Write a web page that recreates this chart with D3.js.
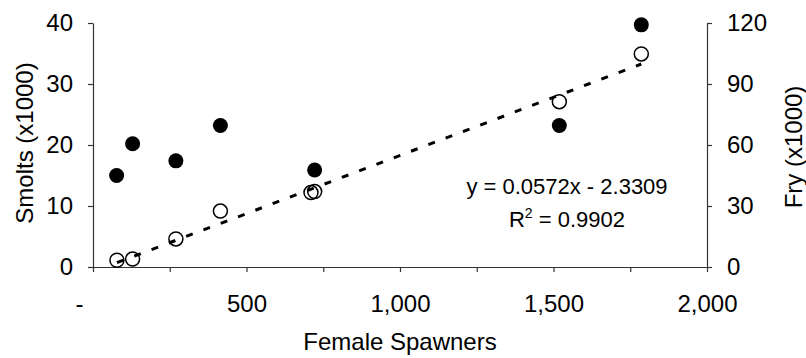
<!DOCTYPE html>
<html>
<head>
<meta charset="utf-8">
<script src="https://cdn.jsdelivr.net/npm/d3@7"></script>
<style>
  html, body { margin: 0; padding: 0; background: #fff; }
  svg { display: block; font-family: "Liberation Sans", Arial, sans-serif; }
</style>
</head>
<body>
<svg id="chart" width="806" height="358"></svg>
<script>
// ---- data ----
const smoltSpawners = [77, 129, 270, 415, 722, 1519, 1786];
const smolts = [15.0, 20.2, 17.4, 23.2, 15.9, 23.2, 39.7];
const frySpawners = [78, 129, 270, 415, 710, 722, 1519, 1786];
const fry = [3.3, 3.9, 13.8, 27.5, 36.6, 37.1, 81.3, 104.8];
const trendSlope = 0.0572;
const trendIntercept = -2.3309;
const xTicks = [0, 250, 500, 750, 1000, 1250, 1500, 1750, 2000];
const leftTicks = [0, 10, 20, 30, 40];
const rightTicks = [0, 30, 60, 90, 120];
const eqText = "y = 0.0572x - 2.3309";
const r2Value = "0.9902";

// ---- layout ----
const svg = d3.select("#chart");
const x = d3.scaleLinear().domain([0, 2000]).range([93, 707]);
const yL = d3.scaleLinear().domain([0, 40]).range([267, 23]);
const yR = d3.scaleLinear().domain([0, 120]).range([267, 23]);
const fs = 24;

function styleAxis(g) {
  g.selectAll("path").attr("stroke", "#333").attr("stroke-width", 1.2);
  g.selectAll("line").attr("stroke", "#333").attr("stroke-width", 1.2);
  g.selectAll("text").attr("font-size", fs).attr("fill", "#000")
    .attr("font-family", '"Liberation Sans", Arial, sans-serif');
}

// x axis
const gx = svg.append("g").attr("transform", "translate(0,267)")
  .call(d3.axisBottom(x).tickValues(xTicks).tickSize(5).tickSizeOuter(0).tickPadding(23)
    .tickFormat(d => d === 0 ? "-" : (d % 500 === 0 ? d3.format(",")(d) : "")));
styleAxis(gx);
gx.selectAll(".tick text").filter(d => d === 0).attr("dx", -14);

// left axis
const gl = svg.append("g").attr("transform", "translate(93,0)")
  .call(d3.axisLeft(yL).tickValues(leftTicks).tickSize(5).tickSizeOuter(0).tickPadding(15));
styleAxis(gl);

// right axis
const gr = svg.append("g").attr("transform", "translate(707,0)")
  .call(d3.axisRight(yR).tickValues(rightTicks).tickSize(5).tickSizeOuter(0).tickPadding(15));
styleAxis(gr);

// smolts (filled, left axis)
svg.append("g").selectAll("circle").data(smolts).join("circle")
  .attr("cx", (d, i) => x(smoltSpawners[i]))
  .attr("cy", d => yL(d))
  .attr("r", 7.5)
  .attr("fill", "#000");

// fry (open, right axis)
svg.append("g").selectAll("circle").data(fry).join("circle")
  .attr("cx", (d, i) => x(frySpawners[i]))
  .attr("cy", d => yR(d))
  .attr("r", 7)
  .attr("fill", "none")
  .attr("stroke", "#000")
  .attr("stroke-width", 1.5);

// trend line (fry)
const x0 = d3.min(frySpawners), x1 = d3.max(frySpawners);
svg.append("line")
  .attr("x1", x(x0)).attr("y1", yR(trendSlope * x0 + trendIntercept))
  .attr("x2", x(x1)).attr("y2", yR(trendSlope * x1 + trendIntercept))
  .attr("stroke", "#000").attr("stroke-width", 3)
  .attr("stroke-dasharray", "7,11.5");

// equation
const eq = svg.append("g").attr("font-size", 22).attr("text-anchor", "middle");
eq.append("text").attr("x", 567).attr("y", 194).text(eqText);
const r2 = eq.append("text").attr("x", 567).attr("y", 227);
r2.append("tspan").text("R");
r2.append("tspan").attr("dy", -9).attr("font-size", 14).text("2");
r2.append("tspan").attr("dy", 9).text(" = " + r2Value);

// axis titles
svg.append("text").attr("x", 400).attr("y", 350).attr("text-anchor", "middle")
  .attr("font-size", fs).text("Female Spawners");
svg.append("text").attr("transform", "translate(33,143) rotate(-90)")
  .attr("text-anchor", "middle").attr("font-size", fs).text("Smolts (x1000)");
svg.append("text").attr("transform", "translate(802,147) rotate(-90)")
  .attr("text-anchor", "middle").attr("font-size", fs).text("Fry (x1000)");
</script>
</body>
</html>
